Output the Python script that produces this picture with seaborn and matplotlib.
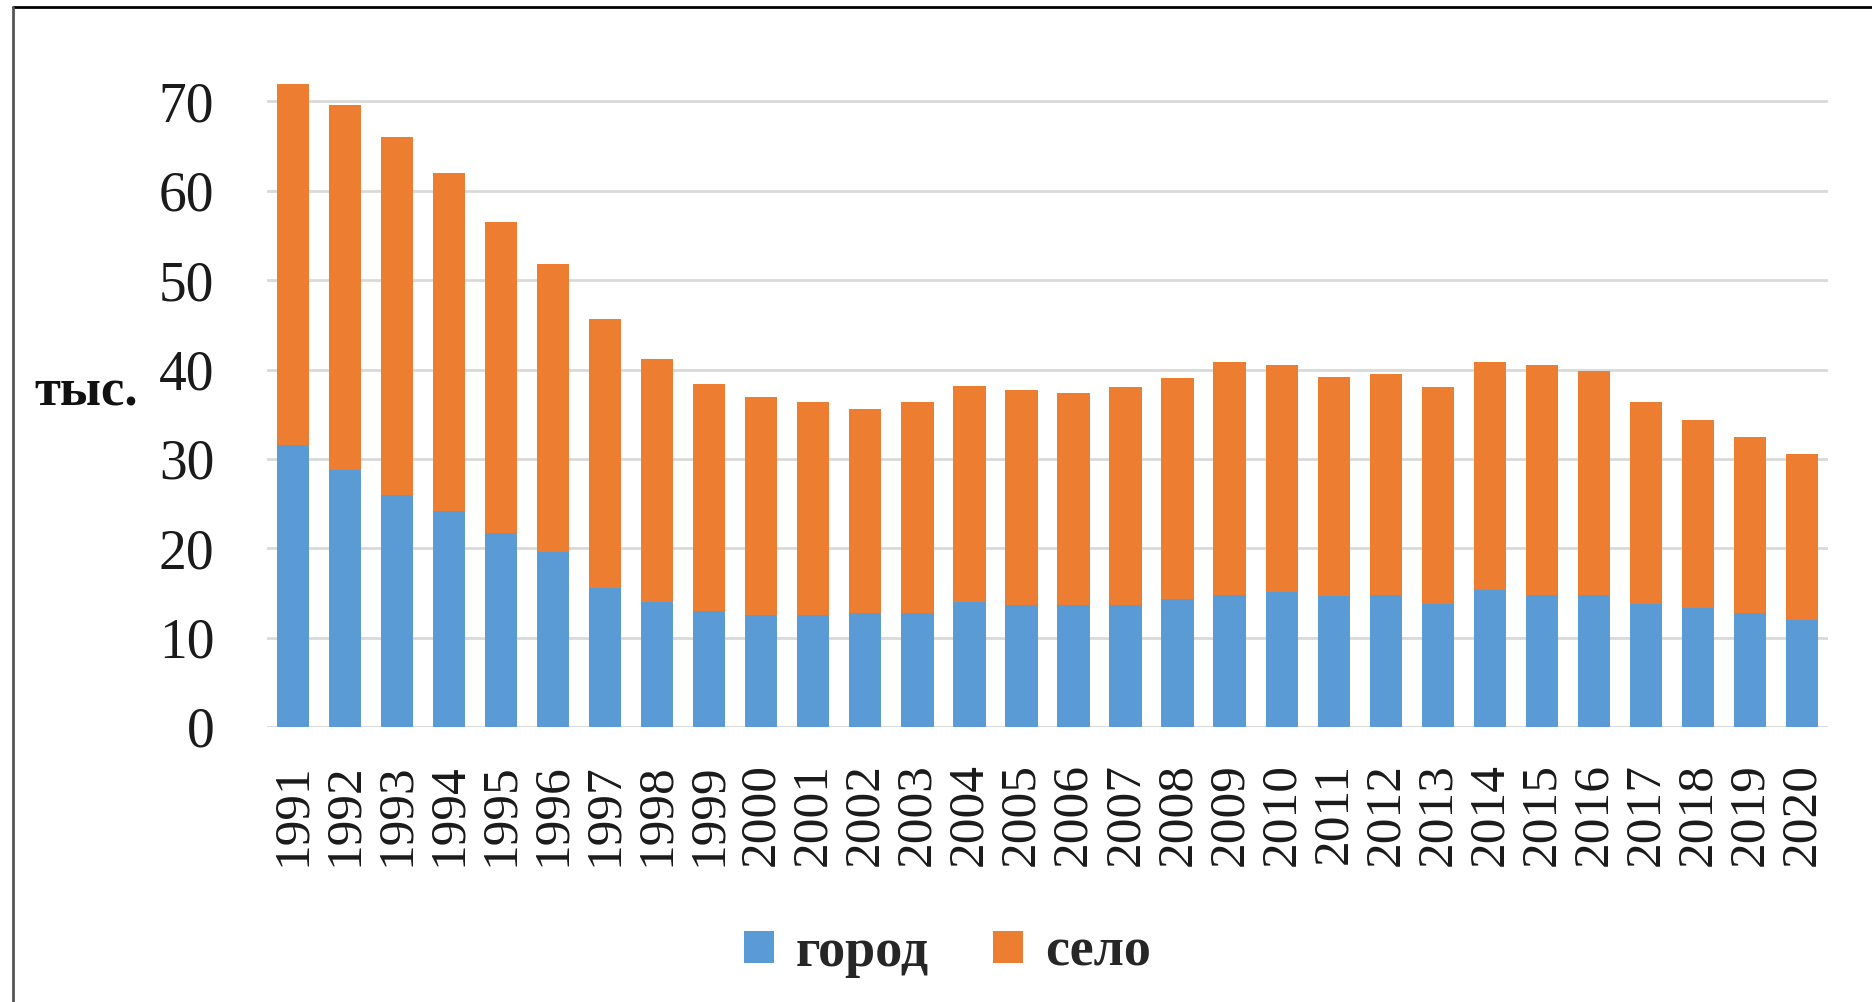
import matplotlib
matplotlib.use("Agg")
import matplotlib.pyplot as plt
from matplotlib.patches import Patch
from matplotlib.lines import Line2D
import seaborn as sns
import pandas as pd

years = [str(y) for y in range(1991, 2021)]
gorod = [31.6, 28.8, 26.0, 24.2, 21.7, 19.6, 15.6, 14.0, 13.0, 12.5,
         12.5, 12.7, 12.7, 14.0, 13.6, 13.6, 13.6, 14.3, 14.8, 15.1,
         14.6, 14.8, 13.8, 15.3, 14.8, 14.8, 13.8, 13.3, 12.7, 12.0]
selo = [40.3, 40.8, 40.0, 37.8, 34.8, 32.2, 30.0, 27.2, 25.4, 24.4,
        23.9, 22.9, 23.7, 24.2, 24.1, 23.8, 24.4, 24.7, 26.0, 25.4,
        24.6, 24.7, 24.2, 25.5, 25.7, 25.0, 22.6, 21.1, 19.7, 18.5]
series_names = ["город", "село"]
y_ticks = [0, 10, 20, 30, 40, 50, 60, 70]
y_label = "тыс."

BLUE = "#5B9BD5"
ORANGE = "#ED7D31"

df = pd.DataFrame({"year": years, "gorod": gorod, "selo": selo})
df["total"] = df["gorod"] + df["selo"]

sns.set_style("white")
plt.rcParams["font.family"] = ["Liberation Serif", "DejaVu Serif"]

fig = plt.figure(figsize=(18.72, 10.02), dpi=100)
ax = fig.add_axes([0.1426, 0.2745, 0.8339, 0.6421])

sns.barplot(data=df, x="year", y="total", color=ORANGE, saturation=1,
            width=0.62, linewidth=0, ax=ax, zorder=3)
sns.barplot(data=df, x="year", y="gorod", color=BLUE, saturation=1,
            width=0.62, linewidth=0, ax=ax, zorder=4)

ax.set_ylim(0, 72)
ax.set_xlim(-0.5, len(years) - 0.5)
ax.set_yticks(y_ticks)
ax.set_yticklabels([str(t) for t in y_ticks], fontsize=40, color="#1a1a1a")
ax.tick_params(axis="y", length=0, pad=38)
ax.tick_params(axis="x", length=0, pad=26, labelsize=37, rotation=90,
               labelcolor="#1a1a1a")
ax.yaxis.grid(True, color="#D9D9D9", linewidth=2.0, zorder=0)
ax.set_axisbelow(True)
for s in ax.spines.values():
    s.set_visible(False)
ax.axhline(0, color="#D9D9D9", linewidth=2.0, zorder=2)
ax.set_xlabel("")
ax.set_ylabel("")

fig.text(34 / 1872, 1 - 393 / 1002, y_label, fontsize=38, fontweight="bold",
         ha="left", va="center", color="#111111")

handles = [Patch(facecolor=BLUE, edgecolor="none"),
           Patch(facecolor=ORANGE, edgecolor="none")]
fig.legend(handles, series_names, loc="center", bbox_to_anchor=(0.506, 1 - 953 / 1002),
           ncol=2, frameon=False, prop={"size": 39, "weight": "bold"},
           handlelength=0.55, handleheight=0.55, handletextpad=0.4,
           columnspacing=1.2)

# outer frame (top and left)
fig.add_artist(Line2D([13 / 1872, 1.0], [1 - 7 / 1002, 1 - 7 / 1002],
                      color="black", linewidth=2, transform=fig.transFigure))
fig.add_artist(Line2D([13 / 1872, 13 / 1872], [0.0, 1 - 7 / 1002],
                      color="#555555", linewidth=2, transform=fig.transFigure))

fig.savefig("out.png", dpi=100)
